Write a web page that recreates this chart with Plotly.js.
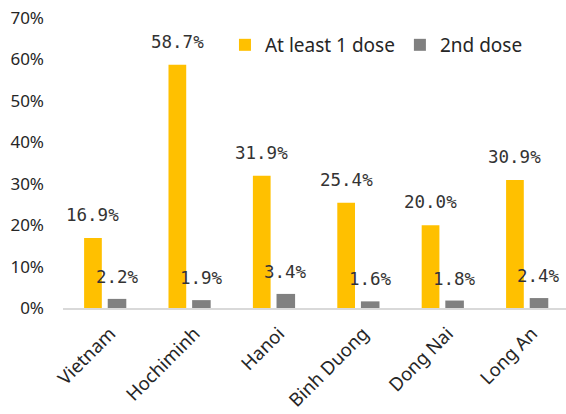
<!DOCTYPE html>
<html>
<head>
<meta charset="utf-8">
<script src="https://cdn.plot.ly/plotly-3.0.1.min.js"></script>
<style>html,body{margin:0;padding:0;background:#fff;}#chart{width:566px;height:414px;}</style>
</head>
<body>
<div id="chart"></div>
<script>
var categories = ["Vietnam", "Hochiminh", "Hanoi", "Binh Duong", "Dong Nai", "Long An"];
var firstDose = [16.9, 58.7, 31.9, 25.4, 20.0, 30.9];
var secondDose = [2.2, 1.9, 3.4, 1.6, 1.8, 2.4];
var seriesNames = ["At least 1 dose", "2nd dose"];
var yTicks = [0, 10, 20, 30, 40, 50, 60, 70];

var yellowOffset = -0.25, yellowWidth = 0.21;
var grayOffset = 0.03, grayWidth = 0.22;

var traces = [
  {type: "bar", name: seriesNames[0], x: categories, y: firstDose,
   offset: yellowOffset, width: yellowWidth, marker: {color: "#FFC000"}, hoverinfo: "skip"},
  {type: "bar", name: seriesNames[1], x: categories, y: secondDose,
   offset: grayOffset, width: grayWidth, marker: {color: "#808080"}, hoverinfo: "skip"}
];

var labelFont = {family: "DejaVu Sans Mono", size: 17.5, color: "#333333"};
var annotations = [];
categories.forEach(function (c, i) {
  annotations.push({xref: "x", yref: "y", x: i + yellowOffset + yellowWidth / 2, y: firstDose[i],
    text: firstDose[i].toFixed(1) + "%", showarrow: false, yanchor: "middle", yshift: 23, font: labelFont});
  annotations.push({xref: "x", yref: "y", x: i + grayOffset + grayWidth / 2, y: secondDose[i],
    text: secondDose[i].toFixed(1) + "%", showarrow: false, yanchor: "middle", yshift: 22, font: labelFont});
});

var layout = {
  width: 566, height: 414,
  margin: {l: 63, r: 0, t: 18, b: 106},
  paper_bgcolor: "#ffffff", plot_bgcolor: "#ffffff",
  barmode: "group",
  showlegend: true,
  legend: {orientation: "h", x: 0.322, xanchor: "left", y: 0.907, yanchor: "middle",
    font: {family: "Noto Sans", size: 19, color: "#262626"}, itemwidth: 30, traceorder: "normal"},
  xaxis: {type: "category", range: [-0.5, 5.46], tickangle: -45, showgrid: false,
    showline: true, linecolor: "#D9D9D9", linewidth: 1.5, ticks: "", ticklabelstandoff: 6,
    ticklabelshift: 5,
    tickfont: {family: "Noto Sans", size: 18.5, color: "#262626"}},
  yaxis: {range: [0, 70], tickvals: yTicks, ticktext: yTicks.map(function (v) { return v + "%"; }),
    showgrid: false, zeroline: false, showline: false, ticks: "", ticklabelstandoff: 18,
    tickfont: {family: "Noto Sans", size: 17, color: "#262626"}},
  annotations: annotations
};

Plotly.newPlot("chart", traces, layout, {displayModeBar: false, staticPlot: true});
</script>
</body>
</html>
